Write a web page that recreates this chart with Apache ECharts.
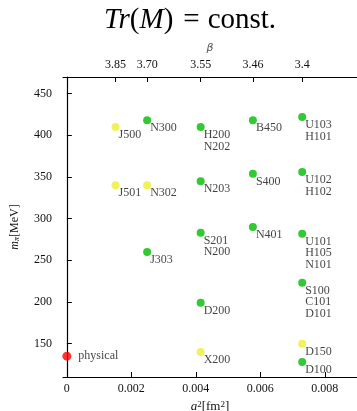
<!DOCTYPE html>
<html>
<head>
<meta charset="utf-8">
<script src="https://cdn.jsdelivr.net/npm/echarts@6/dist/echarts.min.js"></script>
<style>
  html, body { margin: 0; padding: 0; background: #fff; }
  #chart { width: 357px; height: 411px; }
</style>
</head>
<body>
<div id="chart"></div>
<script>
// ensembles: label, a^2 [fm^2], m_pi [MeV], dot colour
const ensembleLabels = ['J500', 'N300', 'J501', 'N302', 'J303',
  'H200\nN202', 'B450', 'U103\nH101', 'N203', 'S400', 'U102\nH102',
  'S201\nN200', 'N401', 'U101\nH105\nN101', 'S100\nC101\nD101',
  'D200', 'X200', 'D150', 'D100']
const ensembleA2 = [0.00151, 0.00249, 0.00151, 0.00249, 0.00249,
  0.00415, 0.00577, 0.0073, 0.00415, 0.00577, 0.0073,
  0.00415, 0.00577, 0.0073, 0.0073,
  0.00415, 0.00415, 0.0073, 0.0073]
const ensembleMpi = [410, 418, 340, 340, 260,
  410, 418, 422, 345, 354, 356,
  283, 290, 282, 223,
  199, 140, 150, 128]
const ensembleKind = ['y', 'g', 'y', 'y', 'g',
  'g', 'g', 'g', 'g', 'g', 'g',
  'g', 'g', 'g', 'g',
  'g', 'y', 'y', 'g']
const kindColor = { g: '#00bb00', y: '#eeee30' }

const physicalA2 = 0
const physicalMpi = 135

// top axis: beta values and their a^2 positions
const betaLabels = ['3.85', '3.70', '3.55', '3.46', '3.4']
const betaA2 = [0.00151, 0.00249, 0.00415, 0.00577, 0.0073]

const xTicks = [0, 0.002, 0.004, 0.006, 0.008]
const yTicks = [150, 200, 250, 300, 350, 400, 450]

const font = 'Liberation Serif'
const ink = '#111'
const chart = echarts.init(document.getElementById('chart'))

const axisCommon = {
  type: 'value',
  splitLine: { show: false },
  axisLine: { show: true, lineStyle: { color: '#000', width: 1.2 } },
  axisTick: { show: true, inside: true, length: 5, lineStyle: { color: '#000' } }
}

const option = {
  animation: false,
  title: {
    text: '{i|Tr}{n|(}{i|M}{n|)}{e|=}{n|const.}',
    left: 99,
    top: 1,
    textStyle: {
      rich: {
        i: { fontFamily: font, fontSize: 29, fontStyle: 'italic', fontWeight: 'normal', color: '#000' },
        n: { fontFamily: font, fontSize: 29, fontWeight: 'normal', color: '#000' },
        e: { fontFamily: font, fontSize: 29, fontWeight: 'normal', color: '#000', padding: [0, 8, 0, 10] }
      }
    }
  },
  grid: { left: 63, right: 0, top: 77, bottom: 34, containLabel: false, outerBoundsMode: 'none' },
  xAxis: [
    {
      ...axisCommon,
      position: 'bottom',
      min: -0.00012,
      max: 0.009,
      axisTick: { ...axisCommon.axisTick, customValues: xTicks },
      axisLabel: {
        customValues: xTicks,
        margin: 6,
        fontFamily: font,
        fontSize: 12,
        color: ink,
        formatter: v => String(+v.toFixed(4))
      },
      name: '{i|a}{s|2}{n|[fm}{s|2}{n|]}',
      nameLocation: 'middle',
      nameGap: 21,
      nameTextStyle: {
        rich: {
          i: { fontFamily: font, fontSize: 13, fontStyle: 'italic', color: ink },
          n: { fontFamily: font, fontSize: 13, color: ink },
          s: { fontFamily: font, fontSize: 9, color: ink, verticalAlign: 'top', padding: [0, 0, 4, 0] }
        }
      }
    },
    {
      ...axisCommon,
      position: 'top',
      min: -0.00012,
      max: 0.009,
      axisTick: { ...axisCommon.axisTick, customValues: betaA2 },
      axisLabel: {
        customValues: betaA2,
        margin: 6,
        fontFamily: font,
        fontSize: 12,
        color: ink,
        formatter: v => {
          const i = betaA2.findIndex(b => Math.abs(b - v) < 1e-9)
          return i >= 0 ? betaLabels[i] : ''
        }
      },
      name: 'β',
      nameLocation: 'middle',
      nameGap: 22,
      nameTextStyle: { fontFamily: 'DejaVu Sans', fontSize: 11, fontStyle: 'italic', color: '#555' }
    }
  ],
  yAxis: {
    ...axisCommon,
    min: 110,
    max: 470,
    axisTick: { ...axisCommon.axisTick, customValues: yTicks },
    axisLabel: {
      customValues: yTicks,
      margin: 11,
      fontFamily: font,
      fontSize: 12,
      color: ink
    },
    name: '{i|m}{s|π}{n|[MeV]}',
    nameLocation: 'middle',
    nameGap: 42,
    nameTextStyle: {
      rich: {
        i: { fontFamily: font, fontSize: 12, fontStyle: 'italic', color: ink },
        n: { fontFamily: font, fontSize: 12, color: ink },
        s: { fontFamily: font, fontSize: 8, fontStyle: 'italic', color: ink, verticalAlign: 'bottom', padding: [4, 0, 0, 0] }
      }
    }
  },
  series: [
    {
      type: 'scatter',
      symbolSize: 8,
      clip: false,
      data: ensembleLabels.map((name, i) => ({
        name: name,
        value: [ensembleA2[i], ensembleMpi[i]],
        itemStyle: { color: kindColor[ensembleKind[i]] }
      })),
      label: {
        show: true,
        position: [7, 6],
        align: 'left',
        verticalAlign: 'top',
        formatter: p => p.name,
        fontFamily: font,
        fontSize: 12,
        lineHeight: 11.6,
        color: ink
      }
    },
    {
      type: 'scatter',
      symbolSize: 9,
      clip: false,
      data: [{ name: 'physical', value: [physicalA2, physicalMpi] }],
      itemStyle: { color: '#ff0000' },
      label: {
        show: true,
        position: 'right',
        distance: 7,
        formatter: p => p.name,
        fontFamily: font,
        fontSize: 12,
        color: ink
      }
    }
  ]
}

chart.setOption(option)
</script>
</body>
</html>
